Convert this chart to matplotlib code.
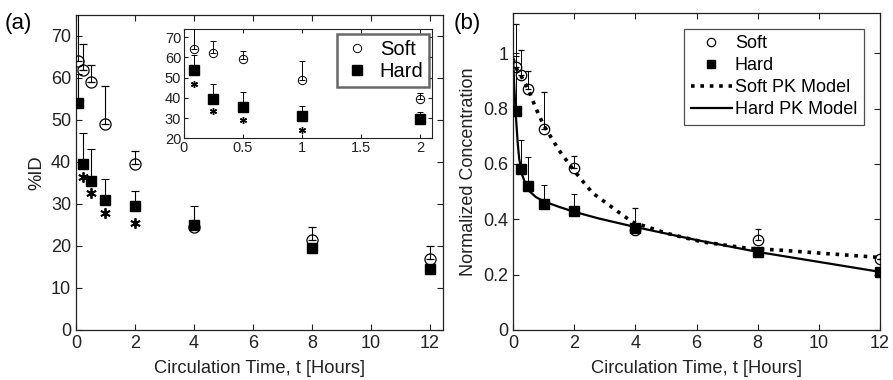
"""
Circulation of soft vs hard particles: %ID and normalized concentration.
"""
import numpy as np
import matplotlib
matplotlib.use("Agg")
import matplotlib.pyplot as plt

plt.rcParams['font.family'] = ['Liberation Sans', 'DejaVu Sans']

# ---- data (a) ----
t = [0.083, 0.25, 0.5, 1, 2, 4, 8, 12]
soft_id = [64, 62, 59, 49, 39.5, 24.5, 21.5, 17]
soft_id_err = [12, 6, 4, 9, 3, 0, 3, 3]
hard_id = [54, 39.5, 35.5, 31, 29.5, 25, 19.5, 14.5]
hard_id_err = [7, 7.5, 7.5, 5, 3.5, 4.5, 0, 0]
star_t = [0.25, 0.5, 1, 2]
star_id = [36.5, 32.5, 27.8, 25.5]

# inset (first 2 hours)
t_in = [0.083, 0.25, 0.5, 1, 2]
soft_in = [64, 62, 59, 49, 39.5]
soft_in_err = [12, 6, 4, 9, 3]
hard_in = [54, 39.5, 35.5, 31, 29.5]
hard_in_err = [7, 7.5, 7.5, 5, 3.5]
star_t_in = [0.083, 0.25, 0.5, 1]
star_in = [47, 33.5, 29, 24]

# ---- data (b) ----
soft_nc = [0.95, 0.92, 0.87, 0.725, 0.585, 0.36, 0.325, 0.255]
soft_nc_err = [0.155, 0.09, 0.065, 0.135, 0.045, 0.08, 0.04, 0]
hard_nc = [0.79, 0.58, 0.52, 0.455, 0.43, 0.37, 0.28, 0.21]
hard_nc_err = [0.2, 0.105, 0.105, 0.07, 0.06, 0, 0, 0]

soft_pk_t = [0, 0.083, 0.25, 0.5, 0.75, 1, 1.5, 2, 2.6, 3.4, 3.9, 5, 6.2, 7.7, 8.8, 10, 11, 12]
soft_pk = [0.98, 0.95, 0.92, 0.87, 0.80, 0.74, 0.65, 0.575, 0.495, 0.43, 0.39, 0.35, 0.318,
           0.295, 0.288, 0.278, 0.27, 0.262]
hard_pk_t = [0, 0.04, 0.083, 0.15, 0.2, 0.3, 0.4, 0.5, 0.75, 1, 1.5, 2, 2.8, 4, 6, 8, 10, 12]
hard_pk = [0.99, 0.88, 0.79, 0.68, 0.62, 0.56, 0.53, 0.505, 0.48, 0.465, 0.445, 0.427,
           0.403, 0.372, 0.325, 0.282, 0.246, 0.21]


def style_axes(ax, lw=0.9):
  for s in ax.spines.values():
    s.set_linewidth(lw)
    s.set_color('#222222')
  ax.tick_params(direction='in', top=True, right=True, length=4, width=0.8, colors='#222222')


def errs(e):
  return [np.zeros(len(e)), e]


fig = plt.figure(figsize=(8.93, 3.8), dpi=100)

# ---- panel (a) ----
ax1 = fig.add_axes([0.0851, 0.1316, 0.411, 0.829])
ax1.errorbar(t, soft_id, yerr=errs(soft_id_err), fmt='o', ms=8, mfc='none', mec='black',
             mew=0.9, ecolor='black', elinewidth=0.8, capsize=3, capthick=0.8, zorder=3)
ax1.errorbar(t, hard_id, yerr=errs(hard_id_err), fmt='s', ms=7.5, mfc='black', mec='black',
             ecolor='black', elinewidth=0.8, capsize=3, capthick=0.8, zorder=3)
ax1.plot(star_t, star_id, ls='none', marker=(6, 2, 0), ms=7.5, mew=1.3, color='black')
ax1.set_xlim(0, 12.45)
ax1.set_ylim(0, 75)
ax1.set_xticks(np.arange(0, 13, 2))
ax1.set_yticks(np.arange(0, 71, 10))
ax1.tick_params(labelsize=13)
ax1.set_xlabel('Circulation Time, t [Hours]', fontsize=13.2, color='#222222', labelpad=6)
ax1.set_ylabel('%ID', fontsize=13.2, color='#222222')
style_axes(ax1)
fig.text(0.005, 0.965, '(a)', fontsize=16, va='top', ha='left')

# inset
axi = fig.add_axes([0.206, 0.636, 0.2777, 0.2876])
axi.errorbar(t_in, soft_in, yerr=errs(soft_in_err), fmt='o', ms=6, mfc='none', mec='black',
             mew=0.7, ecolor='black', elinewidth=0.7, capsize=2.5, capthick=0.7,
             label='Soft', zorder=3)
axi.errorbar(t_in, hard_in, yerr=errs(hard_in_err), fmt='s', ms=6.5, mfc='black', mec='black',
             ecolor='black', elinewidth=0.7, capsize=2.5, capthick=0.7, label='Hard', zorder=3)
axi.plot(star_t_in, star_in, ls='none', marker=(6, 2, 0), ms=5, mew=1.0, color='black')
axi.set_xlim(0, 2.1)
axi.set_ylim(20, 74)
axi.set_xticks([0, 0.5, 1, 1.5, 2])
axi.set_xticklabels(['0', '0.5', '1', '1.5', '2'])
axi.set_yticks(np.arange(20, 71, 10))
axi.tick_params(labelsize=10.5, pad=2)
style_axes(axi, lw=0.8)
axi.tick_params(length=3)
handles, labels = axi.get_legend_handles_labels()
leg = axi.legend([h[0] for h in handles], labels, loc='upper right', fontsize=14.5,
                 frameon=True, fancybox=False, edgecolor='#444444', handletextpad=0.5,
                 borderpad=0.3, labelspacing=0.15, handlelength=1.3, borderaxespad=0,
                 bbox_to_anchor=(0.99, 0.955))
leg.get_frame().set_linewidth(1.8)

# ---- panel (b) ----
ax2 = fig.add_axes([0.5745, 0.1316, 0.411, 0.834])
ax2.plot(soft_pk_t, soft_pk, color='black', lw=2.6, ls=(0, (1, 1.6)), label='Soft PK Model',
         zorder=2)
ax2.plot(hard_pk_t, hard_pk, color='black', lw=1.6, ls='-', label='Hard PK Model', zorder=2)
e1 = ax2.errorbar(t, soft_nc, yerr=errs(soft_nc_err), fmt='o', ms=7.5, mfc='none', mec='black',
                  mew=0.9, ecolor='black', elinewidth=0.7, capsize=2.5, capthick=0.7, zorder=3)
e2 = ax2.errorbar(t, hard_nc, yerr=errs(hard_nc_err), fmt='s', ms=7, mfc='black', mec='black',
                  ecolor='black', elinewidth=0.7, capsize=2.5, capthick=0.7, zorder=3)
ax2.set_xlim(0, 12)
ax2.set_ylim(0, 1.145)
ax2.set_xticks(np.arange(0, 13, 2))
ax2.set_yticks([0, 0.2, 0.4, 0.6, 0.8, 1])
ax2.set_yticklabels(['0', '0.2', '0.4', '0.6', '0.8', '1'])
ax2.tick_params(labelsize=13)
ax2.set_xlabel('Circulation Time, t [Hours]', fontsize=13.2, color='#222222', labelpad=6)
ax2.set_ylabel('Normalized Concentration', fontsize=13, color='#222222')
style_axes(ax2)
lines = ax2.get_lines()
leg2 = ax2.legend([e1[0], e2[0], lines[0], lines[1]],
                  ['Soft', 'Hard', 'Soft PK Model', 'Hard PK Model'],
                  loc='upper right', bbox_to_anchor=(0.955, 0.95), fontsize=13,
                  frameon=True, fancybox=False, edgecolor='#222222', handlelength=2.3,
                  handletextpad=0.15, borderpad=0.35, labelspacing=0.28, borderaxespad=0)
leg2.get_frame().set_linewidth(0.9)
for h in leg2.legend_handles[:2]:
  h.set_markersize(6)
fig.text(0.508, 0.965, '(b)', fontsize=16, va='top', ha='left')

fig.savefig('out.png', dpi=100)
